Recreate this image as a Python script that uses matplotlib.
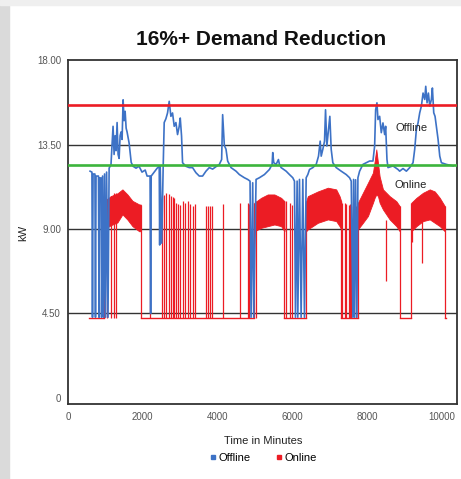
# Import Libraries
import matplotlib
matplotlib.use('Agg')
import matplotlib.pyplot as plt
from matplotlib.lines import Line2D
from matplotlib.patches import Rectangle

plt.rcParams['font.family'] = ['Liberation Sans', 'DejaVu Sans']

# Offline (blue) load, minutes vs kW
offline_t = [590, 640, 655, 670, 720, 735, 750, 815, 830, 845, 885, 898, 925, 950,
             978, 1005, 1032, 1070, 1100, 1150, 1205, 1233, 1260, 1286, 1313, 1340,
             1367, 1394, 1420, 1447, 1474, 1500, 1528, 1555, 1580, 1635, 1690, 1740,
             1820, 1900, 1980, 2065, 2115, 2195, 2210, 2225, 2305, 2385, 2440, 2452,
             2466, 2506, 2546, 2573, 2618, 2662, 2707, 2752, 2796, 2841, 2886, 2930,
             2975, 3002, 3037, 3064, 3153, 3243, 3332, 3421, 3511, 3600, 3690, 3779,
             3868, 3958, 4047, 4109, 4136, 4181, 4226, 4270, 4360, 4494, 4583, 4717,
             4806, 4869, 4896, 4940, 4967, 5030, 5119, 5253, 5387, 5459, 5476, 5503,
             5566, 5628, 5655, 5700, 5834, 5923, 6012, 6057, 6084, 6128, 6146, 6191,
             6235, 6280, 6325, 6370, 6414, 6459, 6548, 6638, 6700, 6745, 6772, 6816,
             6861, 6888, 6923, 6968, 7003, 7039, 7083, 7173, 7307, 7441, 7531, 7575,
             7620, 7638, 7665, 7692, 7727, 7754, 7799, 7888, 7977, 8067, 8156, 8201,
             8228, 8263, 8290, 8335, 8379, 8424, 8469, 8496, 8531, 8558, 8692, 8826,
             8871, 8960, 9050, 9139, 9228, 9273, 9318, 9362, 9407, 9452, 9496, 9541,
             9568, 9603, 9639, 9675, 9719, 9746, 9782, 9817, 9853, 9898, 9943, 9987,
             10121, 10300]
offline_kw = [12.08, 12.03, 4.3, 11.93, 11.93, 4.3, 11.82, 11.82, 4.3, 11.72, 11.72, 4.3,
              11.82, 4.3, 11.93, 4.3, 12.03, 4.3, 12.24, 12.44, 14.47, 12.97, 13.97,
              13.17, 14.67, 12.97, 12.76, 13.97, 14.17, 13.77, 15.88, 14.77, 15.27,
              14.37, 14.17, 13.57, 12.55, 12.34, 12.24, 12.34, 12.03, 12.14, 11.82,
              11.82, 4.5, 11.82, 12.03, 12.24, 12.34, 8.15, 12.34, 8.25, 12.34, 14.67,
              14.87, 15.18, 15.8, 15.0, 15.18, 14.47, 14.67, 14.03, 14.47, 14.91,
              13.95, 12.53, 12.34, 12.27, 12.27, 12.0, 11.82, 11.82, 12.08, 12.27,
              12.19, 12.32, 12.44, 12.7, 15.09, 13.45, 13.25, 12.62, 12.27, 12.08,
              11.9, 11.73, 11.64, 11.55, 4.3, 11.46, 4.3, 11.64, 11.73, 11.9, 12.17,
              12.44, 13.07, 12.53, 12.44, 12.7, 12.44, 12.27, 12.08, 11.9, 11.73,
              11.55, 4.3, 11.55, 4.3, 11.64, 4.3, 11.64, 4.3, 11.73, 11.9, 12.17,
              12.27, 12.44, 12.88, 13.68, 12.88, 13.25, 13.68, 15.35, 13.42, 14.31,
              15.0, 13.25, 12.53, 12.27, 12.08, 11.9, 11.73, 11.55, 4.3, 11.64, 4.3,
              11.62, 4.3, 11.73, 12.08, 12.44, 12.53, 12.62, 12.62, 13.42, 15.35,
              15.72, 14.83, 15.0, 14.13, 14.65, 14.03, 14.47, 12.7, 12.27, 12.36,
              12.17, 12.08, 12.22, 12.08, 12.27, 12.53, 13.25, 14.31, 14.65, 15.19,
              15.55, 16.24, 15.9, 16.6, 15.72, 16.24, 15.55, 15.9, 16.51, 15.19, 15.0,
              14.47, 13.77, 12.88, 12.53, 12.44, 12.36]

# Online (red) load: fast cycling bands (upper / lower envelope)
band_a_t = [965, 1144, 1322, 1456, 1590, 1724, 1903, 1948]
band_a_hi = [10.48, 10.75, 10.9, 11.11, 10.84, 10.5, 10.31, 10.3]
band_a_lo = [8.98, 9.2, 9.35, 9.78, 9.5, 9.15, 8.88, 8.88]
band_b_t = [4985, 5164, 5342, 5521, 5700, 5789]
band_b_hi = [10.4, 10.66, 10.84, 10.84, 10.66, 10.48]
band_b_lo = [8.88, 9.06, 9.15, 9.24, 9.15, 8.88]
band_c_t = [6370, 6414, 6682, 6950, 7173, 7263, 7307]
band_c_hi = [10.48, 10.75, 11.0, 11.2, 11.11, 10.75, 10.48]
band_c_lo = [8.88, 8.98, 9.33, 9.51, 9.42, 9.15, 8.98]
band_d_t = [7754, 7888, 8022, 8156, 8201, 8246, 8290, 8335, 8424, 8603, 8782, 8871]
band_d_hi = [10.4, 10.93, 11.46, 12.0, 12.6, 13.24, 12.53, 11.8, 11.11, 10.75, 10.48, 10.22]
band_d_lo = [8.98, 9.33, 9.69, 10.4, 10.66, 10.84, 10.75, 10.4, 10.04, 9.51, 9.15, 8.88]
band_e_t = [9183, 9318, 9496, 9675, 9809, 9943, 10077]
band_e_hi = [10.4, 10.66, 10.93, 11.11, 11.0, 10.66, 10.22]
band_e_lo = [8.88, 9.15, 9.42, 9.51, 9.33, 9.15, 8.88]

# Online: off-periods at the floor, and single on-spikes
online_start, online_end, online_floor = 563, 10121, 4.28
spike_t = [965, 1054, 1144, 1233, 1295, 1948, 2198, 2506, 2560, 2618, 2689, 2752,
           2800, 2841, 2885, 2930, 3000, 3064, 3136, 3216, 3270, 3332, 3395, 3690,
           3752, 3806, 3842, 4154, 4601, 4806, 4851, 4985, 5030, 5789, 5842, 5950,
           6003, 6370, 7307, 7334, 7397, 7441, 7513, 7531, 7575, 7692, 7754, 8871,
           9183, 10077]
spike_top = [10.48, 10.6, 10.75, 10.9, 10.9, 10.3, 10.4, 10.75, 10.8, 10.93, 10.84,
             10.75, 10.7, 10.66, 10.4, 10.31, 10.3, 10.48, 10.4, 10.48, 10.31, 10.22,
             10.31, 10.22, 10.22, 10.22, 10.22, 10.31, 10.4, 10.4, 10.31, 10.4, 10.5,
             10.48, 10.5, 10.4, 10.3, 10.48, 10.48, 10.4, 10.4, 10.31, 10.3, 10.31,
             10.2, 10.2, 10.4, 10.22, 10.4, 10.22]
dip_t = [8500, 9210, 9470]
dip_kw = [6.25, 8.3, 7.2]

# Reference levels
offline_peak = 15.6
online_peak = 12.4

y_ticks = [0, 4.5, 9, 13.5, 18]
y_tick_labels = ['0', '4.50', '9.00', '13.50', '18.00']
x_ticks = [0, 2000, 4000, 6000, 8000, 10000]

BLUE = '#3d72c6'
RED = '#ec1c24'
GREEN = '#3cb43c'

fig = plt.figure(figsize=(4.61, 4.79), dpi=100)
fig.patches.append(Rectangle((0, 0), 0.02, 1, transform=fig.transFigure,
                             color='#dadada', zorder=0))
fig.patches.append(Rectangle((0, 0.99), 1, 0.01, transform=fig.transFigure,
                             color='#efefef', zorder=0))
ax = fig.add_axes([0.1475, 0.1566, 0.8435, 0.7181])

# Gridlines at the inner ticks only
for y in y_ticks[1:-1]:
    ax.axhline(y, color='#333333', lw=1.0, zorder=1)

# Online series
bands = [(band_a_t, band_a_lo, band_a_hi), (band_b_t, band_b_lo, band_b_hi),
         (band_c_t, band_c_lo, band_c_hi), (band_d_t, band_d_lo, band_d_hi),
         (band_e_t, band_e_lo, band_e_hi)]
for t, lo, hi in bands:
    ax.fill_between(t, lo, hi, color=RED, lw=0.6, zorder=2)
gap_start = online_start
for t, lo, hi in bands:
    ax.plot([gap_start, t[0]], [online_floor, online_floor], color=RED, lw=1.0, zorder=2)
    gap_start = t[-1]
ax.plot([gap_start, online_end], [online_floor, online_floor], color=RED, lw=1.0, zorder=2)
ax.vlines(spike_t, online_floor, spike_top, color=RED, lw=0.9, zorder=2)
ax.vlines(dip_t, dip_kw, 9.5, color=RED, lw=0.9, zorder=2)

# Offline series
ax.plot(offline_t, offline_kw, color=BLUE, lw=1.2, zorder=3)

# Peak lines
ax.axhline(offline_peak, color=RED, lw=1.9, zorder=4)
ax.axhline(online_peak, color=GREEN, lw=1.9, zorder=4)

ax.text(9200, 14.36, 'Offline', fontsize=8, color='#222222', ha='center', va='center', zorder=5)
ax.text(9170, 11.32, 'Online', fontsize=8, color='#222222', ha='center', va='center', zorder=5)

ax.set_xlim(0, 10400)
ax.set_ylim(-0.32, 18)
ax.set_yticks(y_ticks)
ax.set_yticklabels(y_tick_labels)
ax.set_xticks(x_ticks)
ax.tick_params(length=0, labelsize=7, labelcolor='#555555')
ax.tick_params(axis='y', pad=5)
ax.tick_params(axis='x', pad=6)
for s in ax.spines.values():
    s.set_color('#333333')
    s.set_linewidth(1.3)

fig.text(0.566, 0.9165, '16%+ Demand Reduction', fontsize=15, fontweight='bold',
         ha='center', va='center', color='#111111')
fig.text(0.05, 0.5136, 'kW', fontsize=8, rotation=90, ha='center', va='center', color='#222222')
fig.text(0.571, 0.080, 'Time in Minutes', fontsize=8, ha='center', va='center', color='#222222')

handles = [Line2D([], [], marker='s', ls='', color=BLUE, markersize=3.5),
           Line2D([], [], marker='s', ls='', color=RED, markersize=3.5)]
fig.legend(handles, ['Offline', 'Online'], loc='center', bbox_to_anchor=(0.57, 0.044),
           ncol=2, frameon=False, fontsize=8, handletextpad=0.1, columnspacing=2.2,
           handlelength=0.8, borderpad=0)

fig.savefig('out.png', dpi=100, facecolor='white')
